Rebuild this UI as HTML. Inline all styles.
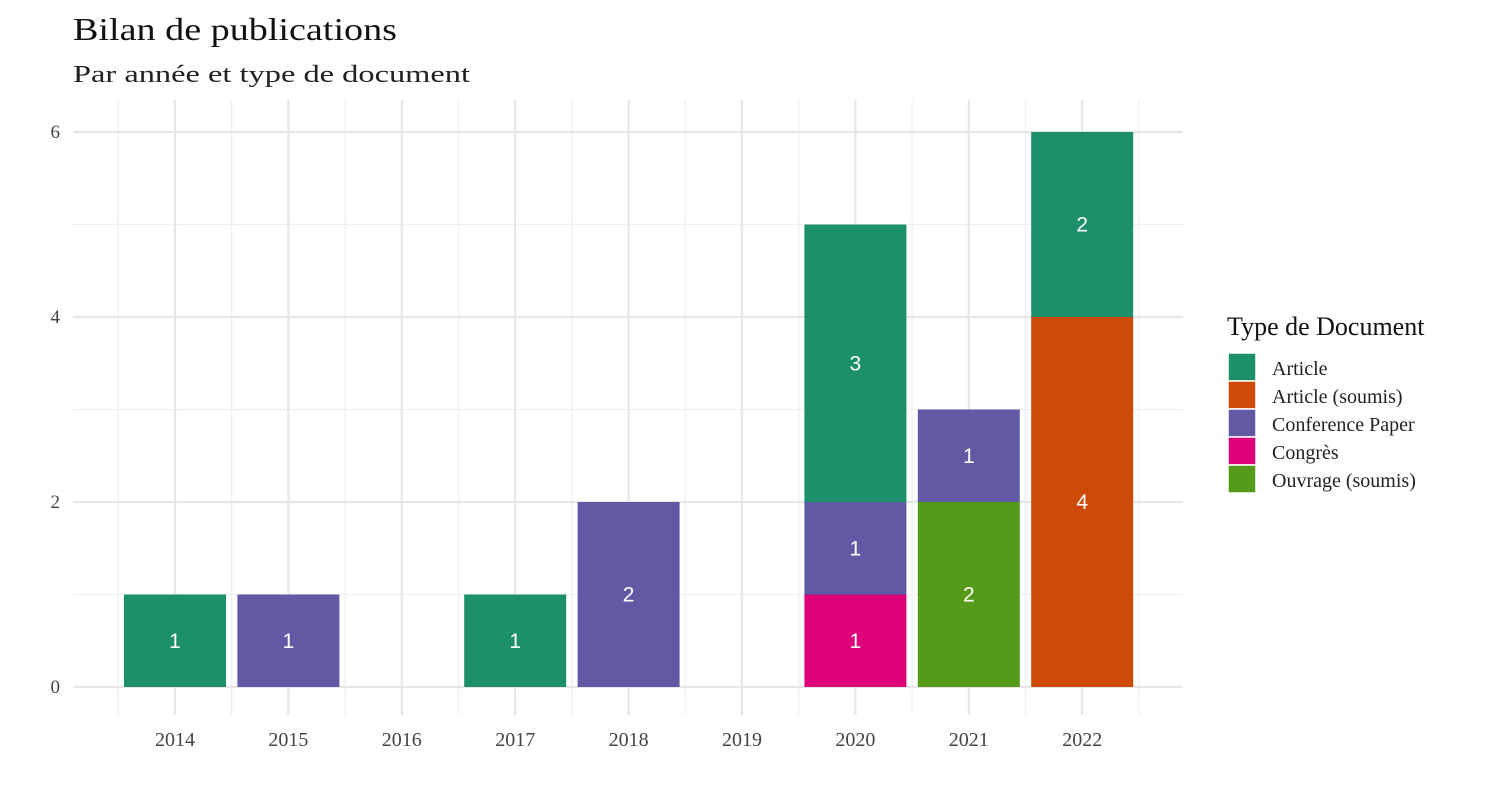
<!DOCTYPE html>
<html><head><meta charset="utf-8"><style>
body{margin:0;background:#fff;width:1500px;height:800px;overflow:hidden}
svg{font-family:"Liberation Serif",serif}
</style></head><body>
<svg id="chart" width="1500" height="800">
<text x="73" y="40" font-size="32" fill="#111" textLength="324" lengthAdjust="spacingAndGlyphs">Bilan de publications</text>
<text x="73" y="82" font-size="24" fill="#222" textLength="397" lengthAdjust="spacingAndGlyphs">Par année et type de document</text>
<g id="grid"></g><g id="bars"></g><g id="axes"></g><g id="legend"></g>
</svg>
<script>
const years=["2014","2015","2016","2017","2018","2019","2020","2021","2022"];
const types=["Article","Article (soumis)","Conference Paper","Congrès","Ouvrage (soumis)"];
const colors=["#1C9068","#CE4A08","#6059A3","#DE0079","#569A1A"];
const article=[1,0,0,1,0,0,3,0,2];
const articleSoumis=[0,0,0,0,0,0,0,0,4];
const confPaper=[0,1,0,0,2,0,1,1,0];
const congres=[0,0,0,0,0,0,1,0,0];
const ouvrage=[0,0,0,0,0,0,0,2,0];
const yTicks=[0,2,4,6];
const series=[article,articleSoumis,confPaper,congres,ouvrage];
const NS="http://www.w3.org/2000/svg";
const x0=175,step=113.4,bw=102,y0=687,ppu=92.5;
const xs=i=>x0+i*step, ys=v=>y0-v*ppu;
function mk(p,t,a){const e=document.createElementNS(NS,t);for(const k in a)e.setAttribute(k,a[k]);p.appendChild(e);return e;}
const grid=document.getElementById('grid'),bars=document.getElementById('bars'),axes=document.getElementById('axes'),leg=document.getElementById('legend');
const L=73,R=1183,T=100,B=715;
for(let v=1;v<=5;v+=2){const l=mk(grid,'line',{x1:L,x2:R,y1:ys(v),y2:ys(v),stroke:'#efefef','stroke-width':1.2});

}
for(let i=0;i<=years.length;i++){const x=xs(i)-step/2;const l=mk(grid,'line',{x1:x,x2:x,y1:T,y2:B,stroke:'#efefef','stroke-width':1.2});

}
yTicks.forEach(v=>{const l=mk(grid,'line',{x1:L,x2:R,y1:ys(v),y2:ys(v),stroke:'#e6e6e6','stroke-width':2.2});


const t=mk(axes,'text',{x:60,y:ys(v)+6,'font-size':19,fill:'#444','text-anchor':'end'});t.textContent=v;

});
years.forEach((y,i)=>{const l=mk(grid,'line',{x1:xs(i),x2:xs(i),y1:T,y2:B,stroke:'#e6e6e6','stroke-width':2.2});


const t=mk(axes,'text',{x:xs(i),y:746,'font-size':20,fill:'#444','text-anchor':'middle'});t.textContent=y;

});
years.forEach((y,i)=>{let base=0;for(let s=series.length-1;s>=0;s--){const v=series[s][i];if(!v)continue;
const r=mk(bars,'rect',{x:xs(i)-bw/2,y:ys(base+v),width:bw,height:v*ppu,fill:colors[s]});


const t=mk(bars,'text',{x:xs(i),y:ys(base+v/2)+7,'font-size':21,fill:'#fff','text-anchor':'middle','font-family':'Liberation Sans, sans-serif'});t.textContent=v;


base+=v;}});
const lt=mk(leg,'text',{x:1227,y:335,'font-size':26,fill:'#111'});lt.textContent="Type de Document";


types.forEach((t,k)=>{const y=353+k*28;
const r=mk(leg,'rect',{x:1228,y:y,width:28,height:28,fill:colors[k],stroke:'#fff','stroke-width':1.5});


const tx=mk(leg,'text',{x:1272,y:y+22,'font-size':20,fill:'#222'});tx.textContent=t;

});
</script>
</body></html>
